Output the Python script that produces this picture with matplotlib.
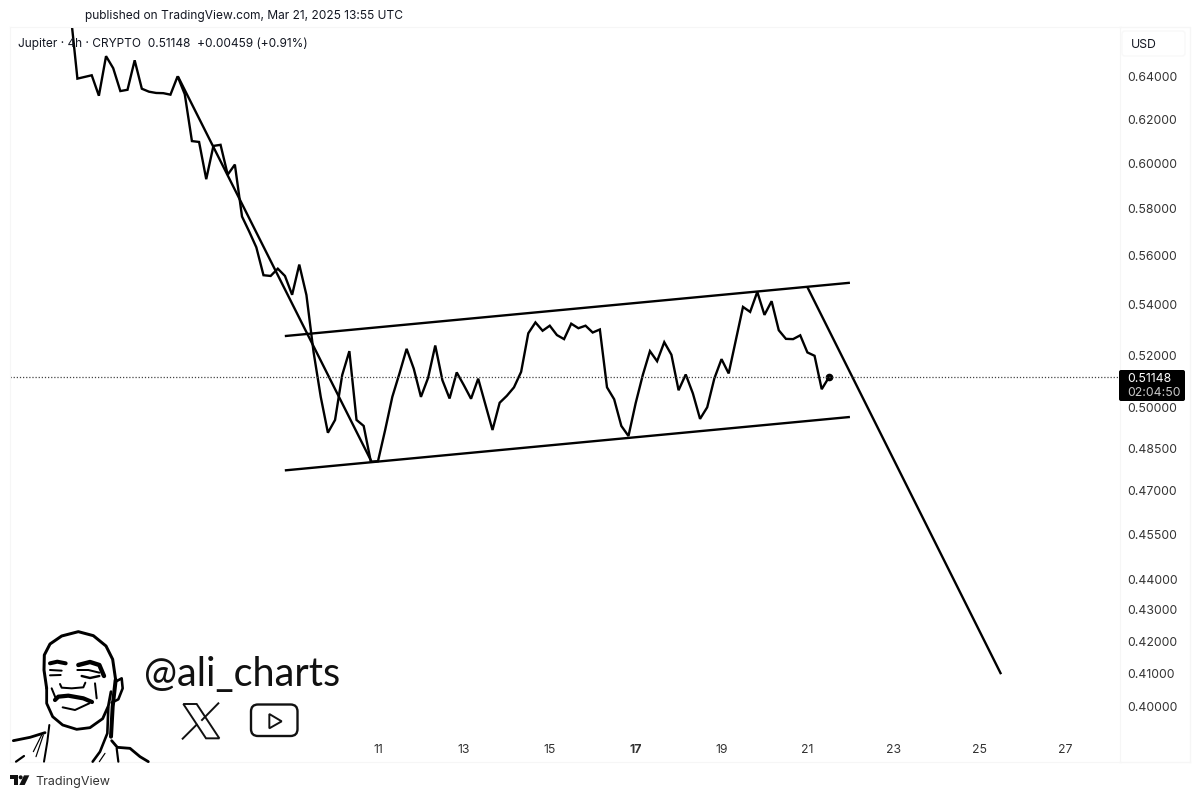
import numpy as np
import matplotlib.pyplot as plt
from matplotlib.patches import FancyBboxPatch, Polygon, Circle

plt.rcParams['font.family'] = ['Inter', 'DejaVu Sans']

# Close prices, 4h bars, first bar is Mar 3 20:00 (x axis is day of March)
prices = [
    0.6728, 0.6392, 0.6400, 0.6408, 0.6311, 0.6500, 0.6442, 0.6333, 0.6339, 0.6480,
    0.6344, 0.6330, 0.6324, 0.6323, 0.6316, 0.6403, 0.6318, 0.6101, 0.6097, 0.5930,
    0.6079, 0.6084, 0.5950, 0.5995, 0.5767, 0.5703, 0.5636, 0.5520, 0.5517, 0.5547,
    0.5517, 0.5440, 0.5564, 0.5439, 0.5212, 0.5041, 0.4908, 0.4955, 0.5124, 0.5216,
    0.4955, 0.4933, 0.4803, 0.4805, 0.4918, 0.5041, 0.5130, 0.5225, 0.5148, 0.5041,
    0.5113, 0.5238, 0.5104, 0.5035, 0.5134, 0.5085, 0.5034, 0.5110, 0.5013, 0.4918,
    0.5019, 0.5045, 0.5077, 0.5136, 0.5286, 0.5329, 0.5296, 0.5316, 0.5279, 0.5263,
    0.5324, 0.5306, 0.5316, 0.5289, 0.5301, 0.5077, 0.5032, 0.4933, 0.4896, 0.5017,
    0.5124, 0.5216, 0.5177, 0.5251, 0.5202, 0.5066, 0.5126, 0.5054, 0.4959, 0.5002,
    0.5111, 0.5185, 0.5130, 0.5259, 0.5391, 0.5371, 0.5452, 0.5359, 0.5414, 0.5298,
    0.5264, 0.5263, 0.5278, 0.5211, 0.5198, 0.5070, 0.51148,
]
days = 3 + 5 / 6 + np.arange(len(prices)) / 6

# Drawn trend lines (day, price)
wedge_days = [6.34, 10.85]
wedge_prices = [0.6403, 0.4803]
upper_days = [8.83, 21.99]
upper_prices = [0.5275, 0.5489]
lower_days = [8.83, 21.99]
lower_prices = [0.4772, 0.4966]
drop_days = [21.0, 25.51]
drop_prices = [0.5471, 0.4099]

y_ticks = [0.64, 0.62, 0.60, 0.58, 0.56, 0.54, 0.52, 0.50, 0.485, 0.47, 0.455, 0.44, 0.43, 0.42, 0.41, 0.40]
x_ticks = [11, 13, 15, 17, 19, 21, 23, 25, 27]

last_price = prices[-1]
W, H = 1200, 798
GREY = '#131722'
FRAME = '#f6f6f6'

fig = plt.figure(figsize=(12, 7.98), dpi=100)
ax = fig.add_axes([10 / W, 1 - 762 / H, 1110 / W, 735 / H])

ax.plot(days, prices, color='black', lw=1.7, solid_joinstyle='miter')
ax.plot(days[-1], last_price, 'o', color='black', ms=4.5)
for xs, ys in [(wedge_days, wedge_prices), (upper_days, upper_prices),
               (lower_days, lower_prices), (drop_days, drop_prices)]:
    ax.plot(xs, ys, color='black', lw=1.7, solid_capstyle='butt')
ax.axhline(last_price, color='#444444', lw=0.9, ls=(0, (1, 1.5)))

ax.set_yscale('log')
ax.set_xlim(2.43, 28.28)
ax.set_ylim(0.3839, 0.6643)
ax.yaxis.tick_right()
ax.set_yticks(y_ticks)
ax.set_yticklabels([f'{t:.5f}' for t in y_ticks])
ax.minorticks_off()
ax.set_xticks(x_ticks)
ax.set_xticklabels([str(t) for t in x_ticks])
ax.tick_params(axis='y', length=0, pad=5, labelsize=8.8, labelcolor='#333333')
ax.tick_params(axis='x', length=0, pad=-13, labelsize=8.8, labelcolor='#333333')
for lab in ax.get_xticklabels():
    if lab.get_text() == '17':
        lab.set_fontweight('bold')
for s in ax.spines.values():
    s.set_color(FRAME)

# Overlay in pixel coordinates for the page furniture
over = fig.add_axes([0, 0, 1, 1])
over.set_xlim(0, W)
over.set_ylim(H, 0)
over.axis('off')
over.patch.set_alpha(0)

over.plot([1120, 1190, 1190], [27, 27, 762], color=FRAME, lw=1)
over.plot([1120, 1190], [762, 762], color=FRAME, lw=1)

over.text(85, 15.5, 'published on TradingView.com, Mar 21, 2025 13:55 UTC', fontsize=8.6,
          color=GREY, va='center')
over.text(18, 44, 'Jupiter · 4h · CRYPTO  0.51148  +0.00459 (+0.91%)', fontsize=8.55,
          color=GREY, va='center')

over.add_patch(FancyBboxPatch((1122, 31), 63, 25, boxstyle='round,pad=0,rounding_size=3',
                              fc='white', ec='#f8f8f8', lw=1))
over.text(1131, 44.5, 'USD', fontsize=8.8, color=GREY, va='center')

over.add_patch(FancyBboxPatch((1119, 370), 66, 31, boxstyle='round,pad=0,rounding_size=2',
                              fc='black', ec='none'))
over.text(1127, 378.5, f'{last_price:.5f}', fontsize=8.8, color='white', va='center')
over.text(1127, 392.5, '02:04:50', fontsize=8.8, color='#c8c8c8', va='center')

over.text(144, 675, '@ali_charts', fontsize=28.5, family=['Lato', 'DejaVu Sans'],
          color='#111111', va='center')
over.text(35, 781.5, 'TradingView', fontsize=9, color='#333333', va='center')


def zoom_pts(pts):
    return [(x / 3, 620 + y / 3) for x, y in pts]


# TradingView logo
over.add_patch(Polygon(zoom_pts([(30, 466), (54, 466), (54, 495), (41, 495), (41, 476), (30, 476)]), fc='#111111'))
over.add_patch(Circle((62 / 3, 620 + 472 / 3), 2, fc='#111111'))
over.add_patch(Polygon(zoom_pts([(72, 466), (88, 466), (74, 495), (58, 495)]), fc='#111111'))

# X icon
over.add_patch(Polygon(zoom_pts([(550, 252), (590, 252), (658, 355), (618, 355)]), fc='none', ec='#111111', lw=1.4))
for seg in [[(655, 250), (606, 300)], [(590, 314), (548, 356)]]:
    xs, ys = zip(*zoom_pts(seg))
    over.plot(xs, ys, color='#111111', lw=1.4)

# Youtube icon
over.add_patch(FancyBboxPatch((251, 704.5), 46.5, 31.5, boxstyle='round,pad=0,rounding_size=7',
                              fc='none', ec='#111111', lw=1.7))
over.add_patch(Polygon(zoom_pts([(808, 282), (845, 304), (808, 325)]), fc='none', ec='#111111', lw=1.4))

# Face sketch: (width, points)
face = [
    (3.0, [(140, 205), (132, 150), (133, 105), (150, 72), (185, 48), (235, 35), (280, 47), (318, 78), (338, 118), (347, 180)]),
    (2.8, [(140, 205), (140, 250), (158, 290), (188, 315), (230, 328), (270, 323), (308, 296), (325, 258), (333, 215)]),
    (2.6, [(347, 185), (365, 175), (368, 205), (355, 238), (335, 248)]),
    (4.0, [(150, 130), (172, 125), (197, 130)]),
    (4.4, [(235, 135), (270, 126), (298, 135), (312, 168)]),
    (2.0, [(150, 150), (185, 152)]),
    (2.0, [(150, 166), (182, 165)]),
    (2.0, [(232, 150), (265, 150), (298, 158)]),
    (2.4, [(245, 168), (270, 174), (298, 168)]),
    (2.0, [(180, 192), (185, 203), (215, 205), (250, 202), (256, 188)]),
    (2.0, [(155, 205), (166, 232)]),
    (2.0, [(285, 190), (290, 235)]),
    (4.2, [(165, 240), (175, 230), (205, 227), (250, 235), (276, 246)]),
    (2.0, [(188, 262), (225, 270), (268, 250)]),
    (2.0, [(148, 315), (142, 365), (132, 425)]),
    (2.8, [(40, 362), (90, 352), (135, 338)]),
    (1.2, [(125, 345), (100, 395)]),
    (1.2, [(130, 345), (108, 410)]),
    (2.2, [(48, 425), (72, 408)]),
    (4.0, [(347, 180), (338, 260), (333, 350)]),
    (2.6, [(325, 262), (322, 340), (300, 395), (278, 425)]),
    (1.2, [(315, 400), (298, 425)]),
    (2.8, [(335, 362), (352, 382), (390, 385), (420, 410), (445, 425)]),
    (2.2, [(350, 385), (355, 425)]),
]
for width, pts in face:
    xs, ys = zip(*zoom_pts(pts))
    over.plot(xs, ys, color='black', lw=width * 0.72, solid_capstyle='round')

fig.savefig('out.png', dpi=100)
